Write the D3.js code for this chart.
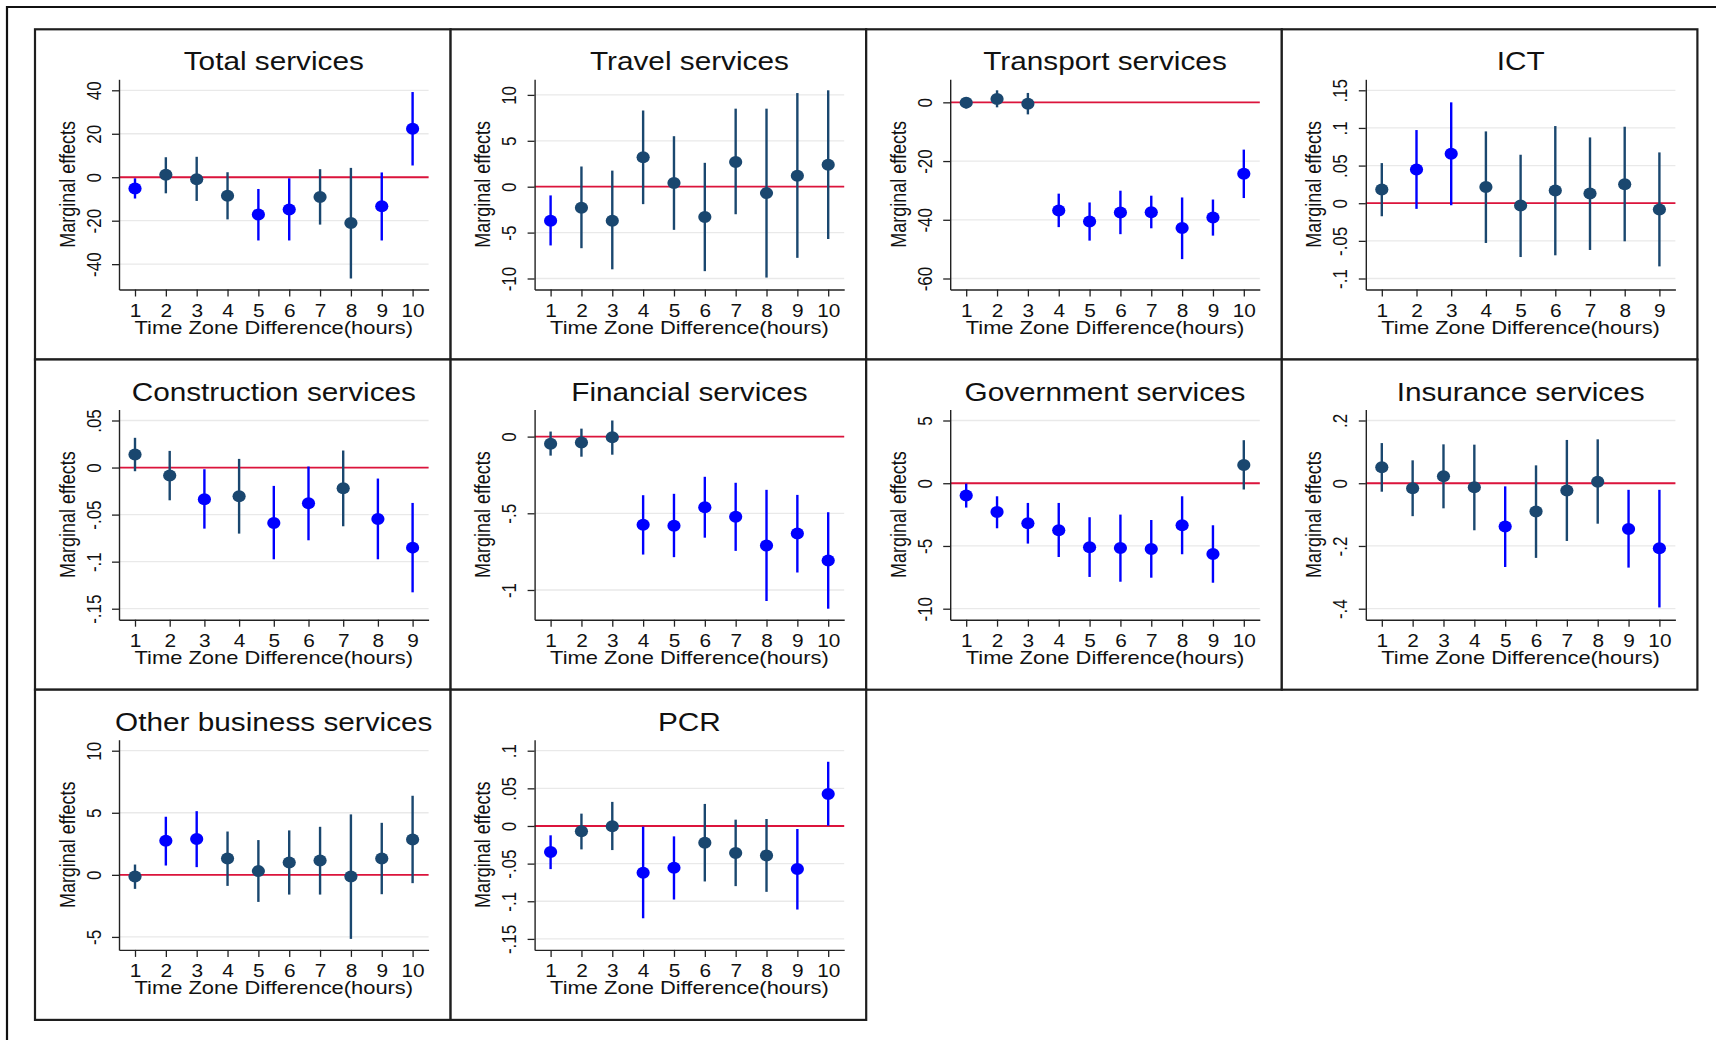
<!DOCTYPE html>
<html>
<head>
<meta charset="utf-8">
<script src="https://cdn.jsdelivr.net/npm/d3@7"></script>
<style>
  body { margin: 0; background: #fff; }
  svg { display: block; font-family: "Liberation Sans", Arial, sans-serif; }
</style>
</head>
<body>
<svg id="canvas" width="1716" height="1040"></svg>
<script>
// hours on the x axis
const hours = [1, 2, 3, 4, 5, 6, 7, 8, 9, 10];

// each row: [estimate, lower CI, upper CI, significant (1 = blue)]
const totalServices = [
  [-5.2, -9.8, -0.5, 1], [1.1, -7.4, 9.2, 0], [-0.9, -10.9, 9.4, 0], [-8.5, -19.4, 2.3, 0],
  [-17.1, -29.1, -5.4, 1], [-14.8, -29.1, -0.5, 1], [-9.1, -21.8, 3.7, 0], [-21.1, -46.6, 4.3, 0],
  [-13.4, -29.1, 2.2, 1], [22.3, 5.4, 39.2, 1]
];
const travelServices = [
  [-3.7, -6.4, -0.95, 1], [-2.3, -6.7, 2.2, 0], [-3.7, -9.0, 1.75, 0], [3.2, -1.9, 8.3, 0],
  [0.4, -4.7, 5.5, 0], [-3.3, -9.2, 2.6, 0], [2.7, -3.0, 8.5, 0], [-0.7, -9.9, 8.5, 0],
  [1.2, -7.75, 10.2, 0], [2.4, -5.7, 10.5, 0]
];
const transportServices = [
  [-0.1, -2.05, 1.25, 0], [1.1, -1.7, 4.1, 0], [-0.45, -4.1, 3.2, 0], [-36.8, -42.5, -31.1, 1],
  [-40.6, -47.1, -34.1, 1], [-37.5, -44.9, -30.1, 1], [-37.4, -42.9, -31.8, 1], [-42.8, -53.4, -32.4, 1],
  [-39.2, -45.4, -33.1, 1], [-24.3, -32.6, -16.1, 1]
];
const ict = [
  [0.0182, -0.0173, 0.0533, 0], [0.0448, -0.0075, 0.0972, 1], [0.0657, -0.0027, 0.134, 1],
  [0.0217, -0.0528, 0.0954, 0], [-0.0031, -0.0715, 0.0644, 0], [0.0169, -0.0692, 0.1025, 0],
  [0.0129, -0.0621, 0.0874, 0], [0.0253, -0.0506, 0.1016, 0], [-0.0084, -0.0839, 0.0675, 0]
];
const construction = [
  [0.0138, -0.0039, 0.0316, 0], [-0.0085, -0.0348, 0.0177, 0], [-0.0337, -0.0649, -0.0018, 1],
  [-0.0305, -0.0702, 0.0092, 0], [-0.0589, -0.0975, -0.0195, 1], [-0.0379, -0.0773, 0.0011, 1],
  [-0.022, -0.0624, 0.0181, 0], [-0.0546, -0.0975, -0.0117, 1], [-0.0851, -0.1326, -0.0376, 1]
];
const financial = [
  [-0.046, -0.124, 0.033, 0], [-0.039, -0.131, 0.052, 0], [-0.004, -0.118, 0.105, 0],
  [-0.574, -0.769, -0.382, 1], [-0.581, -0.786, -0.373, 1], [-0.461, -0.659, -0.262, 1],
  [-0.522, -0.745, -0.301, 1], [-0.710, -1.072, -0.347, 1], [-0.631, -0.886, -0.380, 1],
  [-0.808, -1.122, -0.493, 1]
];
const government = [
  [-0.98, -1.94, -0.03, 1], [-2.29, -3.59, -1.04, 1], [-3.19, -4.81, -1.57, 1], [-3.75, -5.88, -1.57, 1],
  [-5.11, -7.47, -2.71, 1], [-5.16, -7.85, -2.5, 1], [-5.24, -7.53, -2.93, 1], [-3.35, -5.66, -1.04, 1],
  [-5.64, -7.93, -3.35, 1], [1.46, -0.5, 3.43, 0]
];
const insurance = [
  [0.051, -0.027, 0.128, 0], [-0.016, -0.105, 0.073, 0], [0.022, -0.080, 0.124, 0],
  [-0.013, -0.150, 0.123, 0], [-0.138, -0.267, -0.010, 1], [-0.090, -0.238, 0.057, 0],
  [-0.023, -0.184, 0.138, 0], [0.005, -0.129, 0.140, 0], [-0.146, -0.269, -0.021, 1],
  [-0.207, -0.396, -0.021, 1]
];
const otherBusiness = [
  [-0.13, -1.13, 0.83, 0], [2.74, 0.75, 4.68, 1], [2.88, 0.62, 5.13, 1], [1.32, -0.89, 3.49, 0],
  [0.30, -2.18, 2.80, 0], [0.99, -1.59, 3.58, 0], [1.16, -1.59, 3.87, 0], [-0.13, -5.16, 4.87, 0],
  [1.32, -1.56, 4.19, 0], [2.85, -0.67, 6.37, 0]
];
const pcr = [
  [-0.0346, -0.0573, -0.0124, 1], [-0.0071, -0.0311, 0.0164, 0], [-0.0004, -0.032, 0.032, 0],
  [-0.0622, -0.1226, -0.0009, 1], [-0.0555, -0.0977, -0.0138, 1], [-0.0222, -0.0737, 0.0293, 0],
  [-0.036, -0.0799, 0.0084, 0], [-0.0391, -0.0875, 0.0093, 0], [-0.0573, -0.111, -0.004, 1],
  [0.0426, 0.0004, 0.0853, 1]
];

// y tick values per panel
const totalTicks = [-40, -20, 0, 20, 40];
const travelTicks = [-10, -5, 0, 5, 10];
const transportTicks = [-60, -40, -20, 0];
const ictTicks = [-0.1, -0.05, 0, 0.05, 0.1, 0.15];
const constructionTicks = [-0.15, -0.1, -0.05, 0, 0.05];
const financialTicks = [-1, -0.5, 0];
const governmentTicks = [-10, -5, 0, 5];
const insuranceTicks = [-0.4, -0.2, 0, 0.2];
const otherTicks = [-5, 0, 5, 10];
const pcrTicks = [-0.15, -0.1, -0.05, 0, 0.05, 0.1];

const titles = ["Total services", "Travel services", "Transport services", "ICT",
  "Construction services", "Financial services", "Government services", "Insurance services",
  "Other business services", "PCR"];
const xTitle = "Time Zone Difference(hours)";
const yTitle = "Marginal effects";

const panels = [
  [totalServices, totalTicks], [travelServices, travelTicks], [transportServices, transportTicks],
  [ict, ictTicks], [construction, constructionTicks], [financial, financialTicks],
  [government, governmentTicks], [insurance, insuranceTicks], [otherBusiness, otherTicks], [pcr, pcrTicks]
].map((p, i) => ({title: titles[i], rows: p[0], ticks: p[1]}));

// layout
const panelW = 415.6, panelH = 330.2, originX = 35, originY = 29.3;
const m = {left: 84, right: 22, top: 50, bottom: 70};
const pw = panelW - m.left - m.right, ph = panelH - m.top - m.bottom;
const padY = 11, padX = 16;
const sx = 1.19; // text in the picture is stretched sideways
const navy = "#1a476f", blue = "#0000ff";

// stata-like labels: .05 instead of 0.05
const fmt = d => String(d).replace(/^(-?)0\./, "$1.");

const svg = d3.select('#canvas');

// outer frame
svg.append('path')
  .attr('d', 'M7,1040V7H1716')
  .attr('fill', 'none').attr('stroke', '#111').attr('stroke-width', 2.2);

panels.forEach((p, i) => {
  let col = i % 4, row = Math.floor(i / 4);
  let g = svg.append('g')
    .attr('transform', `translate(${originX + col * panelW},${originY + row * panelH})`);

  g.append('rect')
    .attr('width', panelW).attr('height', panelH)
    .attr('fill', 'white').attr('stroke', '#1e1e1e').attr('stroke-width', 2.2);

  let plot = g.append('g').attr('transform', `translate(${m.left},${m.top})`);

  let xs = hours.slice(0, p.rows.length);
  // inner scale maps data to plot minus margin, then stretch to full plot area
  let xi = d3.scaleLinear().domain([1, xs.length]).range([padX, pw - padX]);
  let x = d3.scaleLinear().domain([xi.invert(0), xi.invert(pw)]).range([0, pw]);

  let lo = d3.min([d3.min(p.rows, d => d[1]), d3.min(p.ticks)]);
  let hi = d3.max([d3.max(p.rows, d => d[2]), d3.max(p.ticks)]);
  let yi = d3.scaleLinear().domain([lo, hi]).range([ph - padY, padY]);
  let y = d3.scaleLinear().domain([yi.invert(ph), yi.invert(0)]).range([ph, 0]);

  // grid
  plot.selectAll('line.grid')
    .data(p.ticks)
    .join('line')
    .attr('class', 'grid')
    .attr('x1', 0).attr('x2', pw)
    .attr('y1', d => y(d)).attr('y2', d => y(d))
    .attr('stroke', '#e9e9e9').attr('stroke-width', 1.3);

  // zero reference line
  plot.append('line')
    .attr('x1', 0).attr('x2', pw)
    .attr('y1', y(0)).attr('y2', y(0))
    .attr('stroke', '#dc143c').attr('stroke-width', 1.8);

  // confidence intervals
  plot.selectAll('line.ci')
    .data(p.rows)
    .join('line')
    .attr('class', 'ci')
    .attr('x1', (d, j) => x(xs[j])).attr('x2', (d, j) => x(xs[j]))
    .attr('y1', d => y(d[1])).attr('y2', d => y(d[2]))
    .attr('stroke', d => d[3] ? blue : navy).attr('stroke-width', 2.4);

  // point estimates
  plot.selectAll('ellipse')
    .data(p.rows)
    .join('ellipse')
    .attr('cx', (d, j) => x(xs[j])).attr('cy', d => y(d[0]))
    .attr('rx', 6.6).attr('ry', 6)
    .attr('fill', d => d[3] ? blue : navy);

  // axes
  let xAxis = plot.append('g')
    .attr('transform', `translate(0,${ph})`)
    .call(d3.axisBottom(x).tickValues(xs).tickFormat(d3.format('d')).tickSize(7).tickSizeOuter(0));
  xAxis.selectAll('.tick text')
    .attr('y', null).attr('dy', null)
    .attr('transform', `translate(0,27) scale(${sx},1)`)
    .attr('font-size', 17.5).attr('fill', '#111');

  let yAxis = plot.append('g')
    .call(d3.axisLeft(y).tickValues(p.ticks).tickFormat(fmt).tickSize(7).tickSizeOuter(0));
  yAxis.selectAll('.tick text')
    .attr('x', null).attr('dy', null)
    .attr('text-anchor', 'middle')
    .attr('transform', `translate(-18.5,0) scale(${sx},1) rotate(-90)`)
    .attr('font-size', 17).attr('fill', '#111');

  [xAxis, yAxis].forEach(a => {
    a.attr('font-family', null);
    a.select('.domain').attr('stroke', '#222').attr('stroke-width', 1.4);
    a.selectAll('.tick line').attr('stroke', '#222').attr('stroke-width', 1.3);
  });

  // titles
  g.append('text')
    .attr('transform', `translate(${m.left + pw / 2},41) scale(${sx},1)`)
    .attr('text-anchor', 'middle')
    .attr('font-size', 25).attr('fill', '#111')
    .text(p.title);

  plot.append('text')
    .attr('transform', `translate(${pw / 2},${ph + 44}) scale(${sx},1)`)
    .attr('text-anchor', 'middle')
    .attr('font-size', 18.4).attr('fill', '#111')
    .text(xTitle);

  plot.append('text')
    .attr('transform', `translate(-44.5,${ph / 2}) scale(${sx},1) rotate(-90)`)
    .attr('text-anchor', 'middle')
    .attr('font-size', 18).attr('fill', '#111')
    .text(yTitle);
});
</script>
</body>
</html>
